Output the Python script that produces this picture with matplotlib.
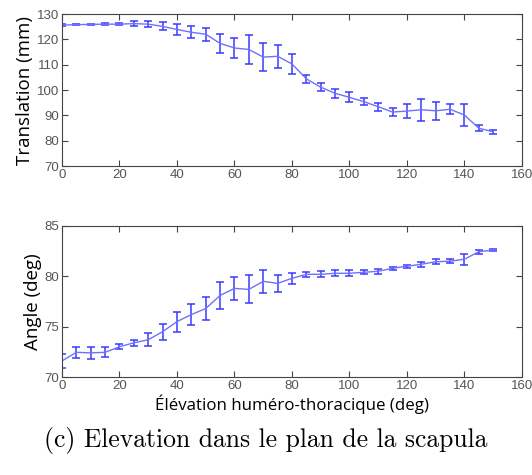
import numpy as np
import matplotlib.pyplot as plt

elev = np.arange(0, 155, 5)

trans = [125.6, 125.8, 125.9, 126.0, 126.0, 126.2, 126.0, 125.1, 123.9, 122.8,
         122.0, 118.4, 116.6, 116.0, 113.0, 113.3, 110.3, 104.4, 101.1, 98.7,
         97.1, 95.4, 93.4, 91.3, 91.7, 92.2, 91.8, 92.4, 90.1, 84.9, 83.5]
trans_err = [0.4, 0.2, 0.2, 0.3, 0.5, 1.0, 1.3, 1.6, 2.2, 2.3,
             2.6, 3.8, 4.0, 5.6, 5.5, 4.6, 4.0, 1.6, 1.6, 1.8,
             2.0, 1.25, 1.5, 1.6, 2.8, 4.4, 3.5, 2.0, 4.2, 1.1, 0.8]

angle = [71.6, 72.45, 72.4, 72.45, 73.0, 73.4, 73.7, 74.5, 75.5, 76.2,
         76.8, 78.1, 78.8, 78.7, 79.5, 79.3, 79.8, 80.2, 80.2, 80.3,
         80.3, 80.4, 80.5, 80.8, 81.0, 81.2, 81.45, 81.5, 81.7, 82.45, 82.6]
angle_err = [0.7, 0.53, 0.58, 0.5, 0.23, 0.3, 0.63, 0.78, 1.0, 1.05,
             1.1, 1.36, 1.16, 1.4, 1.16, 0.83, 0.56, 0.23, 0.3, 0.28,
             0.28, 0.2, 0.25, 0.15, 0.15, 0.25, 0.25, 0.2, 0.55, 0.2, 0.1]

fig = plt.figure(figsize=(5.32, 4.75), dpi=100)
ax1 = fig.add_axes([0.1165, 0.6505, 0.8647, 0.32])
ax2 = fig.add_axes([0.1165, 0.2063, 0.8647, 0.318])

line_c = '#7070ff'
err_c = '#3a3aff'
tick_c = '#555555'

for ax, y, e, lims, ticks, lab in [
        (ax1, trans, trans_err, (70, 130), np.arange(70, 131, 10), 'Translation (mm)'),
        (ax2, angle, angle_err, (70, 85), np.arange(70, 86, 5), 'Angle (deg)')]:
    ax.errorbar(elev, y, yerr=e, color=line_c, ecolor=err_c, elinewidth=1.1,
                capsize=3, capthick=1.1, lw=1.0)
    ax.set_xlim(0, 160)
    ax.set_ylim(*lims)
    ax.set_yticks(ticks)
    ax.set_xticks(np.arange(0, 161, 20))
    ax.tick_params(direction='in', top=True, right=True, length=4,
                   colors='#444444', labelcolor=tick_c, labelsize=9.5, pad=2)
    for sp in ax.spines.values():
        sp.set_color('#444444')
        sp.set_linewidth(0.8)
    for t in ax.get_xticklabels() + ax.get_yticklabels():
        t.set_fontfamily('Liberation Sans')
    ax.set_ylabel(lab, fontfamily='Open Sans', fontsize=13.5, labelpad=2)

ax2.set_xlabel('Élévation huméro-thoracique (deg)', fontfamily='Open Sans',
               fontsize=12.2, labelpad=2)

fig.text(0.5, 0.073, '(c) Elevation dans le plan de la scapula',
         fontfamily='cmr10', fontsize=18.5, ha='center', va='center')

fig.savefig('out.png', dpi=100)
